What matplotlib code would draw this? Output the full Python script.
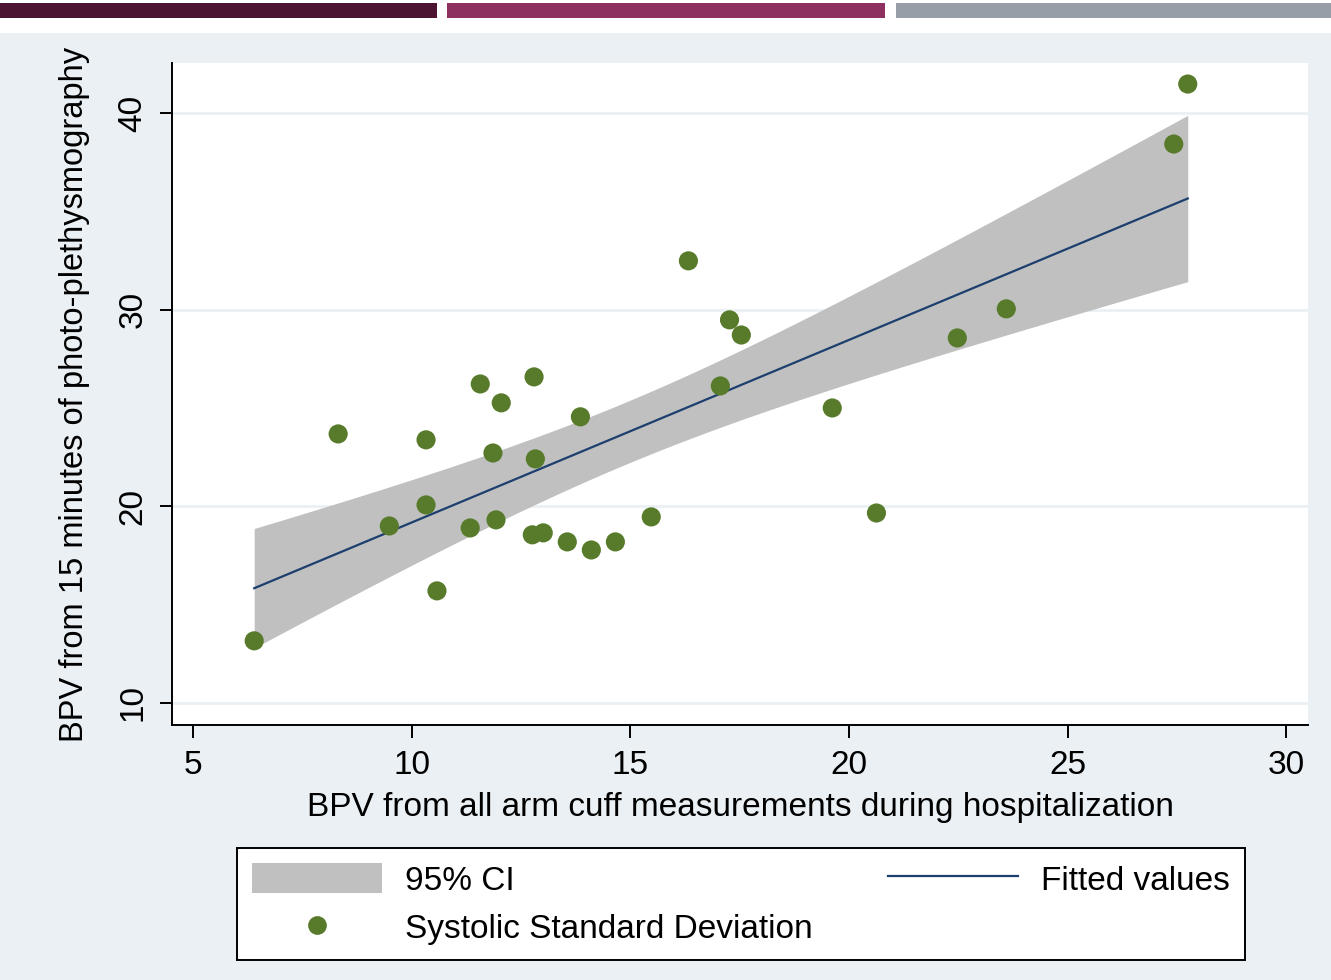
import numpy as np
import matplotlib
matplotlib.use('Agg')
import matplotlib.pyplot as plt
from matplotlib.patches import Rectangle, Patch
from matplotlib.lines import Line2D

plt.rcParams['font.family'] = ['Liberation Sans', 'DejaVu Sans']

# arm cuff BPV (x) vs PPG BPV (y)
cuff_sd = [6.40, 8.32, 9.49, 10.33, 10.33, 10.58, 11.34, 11.57, 11.86, 11.93,
           12.05, 12.80, 12.83, 12.76, 13.01, 13.56, 13.86, 14.11, 14.66, 15.48,
           16.33, 17.06, 17.27, 17.54, 19.62, 20.63, 22.48, 23.60, 27.43, 27.75]
ppg_sd = [13.16, 23.68, 19.00, 23.38, 20.07, 15.70, 18.90, 26.22, 22.71, 19.31,
          25.26, 26.58, 22.41, 18.55, 18.65, 18.19, 24.55, 17.78, 18.19, 19.46,
          32.48, 26.12, 29.48, 28.71, 25.00, 19.66, 28.56, 30.04, 38.42, 41.47]
xticks = [5, 10, 15, 20, 25, 30]
yticks = [10, 20, 30, 40]

x = np.array(cuff_sd)
y = np.array(ppg_sd)
n = len(x)

# linear fit + 95% CI of the mean (t for 28 df)
b1, b0 = np.polyfit(x, y, 1)
resid = y - (b0 + b1 * x)
s = np.sqrt(np.sum(resid ** 2) / (n - 2))
xs = np.linspace(x.min(), x.max(), 200)
fit = b0 + b1 * xs
se = s * np.sqrt(1.0 / n + (xs - x.mean()) ** 2 / np.sum((x - x.mean()) ** 2))
t = 2.048
lo, hi = fit - t * se, fit + t * se

fig = plt.figure(figsize=(13.31, 9.80), dpi=100)

# slide decorations
fig.patches.append(Rectangle((0.0, 0.0), 1.0, 1 - 33 / 980, transform=fig.transFigure,
                             facecolor='#eaf0f3', edgecolor='none', zorder=-10))
bar_y = 1 - 18 / 980
bar_h = 15 / 980
for x0, x1, c in [(0, 437, '#4c1431'), (447, 885, '#8e3060'), (896, 1331, '#979ea8')]:
    fig.patches.append(Rectangle((x0 / 1331, bar_y), (x1 - x0) / 1331, bar_h,
                                 transform=fig.transFigure, facecolor=c,
                                 edgecolor='none', zorder=-5))

ax = fig.add_axes([172 / 1331, 1 - 725 / 980, 1136 / 1331, 662 / 980])
ax.set_facecolor('white')

ax.fill_between(xs, lo, hi, color='#c0c0c0', linewidth=0, zorder=2)
ax.plot(xs, fit, color='#1d3f6e', linewidth=1.6, zorder=3)
ax.scatter(x, y, s=190, color='#587b2b', edgecolors='none', zorder=4)

ax.set_xlim(4.52, 30.5)
ax.set_ylim(8.88, 42.54)
ax.set_xticks(xticks)
ax.set_yticks(yticks)
ax.grid(axis='y', color='#eaf0f3', linewidth=2, zorder=0)
ax.set_axisbelow(True)

for side in ['top', 'right']:
    ax.spines[side].set_visible(False)
for side in ['left', 'bottom']:
    ax.spines[side].set_linewidth(1.4)
ax.tick_params(axis='both', direction='out', length=9, width=1.4, labelsize=24)
ax.tick_params(axis='x', pad=9)
ax.tick_params(axis='y', pad=8)
for lab in ax.get_yticklabels():
    lab.set_rotation(90)
    lab.set_va('center')

ax.set_xlabel('BPV from all arm cuff measurements during hospitalization', fontsize=24, labelpad=8)
ax.set_ylabel('BPV from 15 minutes of photo-plethysmography', fontsize=23.5, labelpad=20)

handles = [Patch(facecolor='#c0c0c0', edgecolor='none'),
           Line2D([], [], linestyle='none', marker='o', markersize=13.5,
                  markerfacecolor='#587b2b', markeredgecolor='none'),
           Line2D([], [], color='#1d3f6e', linewidth=1.6)]
labels = ['95% CI', 'Systolic Standard Deviation', 'Fitted values']
leg = fig.legend(handles, labels, ncol=2, loc='center',
                 bbox_to_anchor=(237 / 1331, 23 / 980, 1008 / 1331, 106 / 980),
                 bbox_transform=fig.transFigure, mode='expand', borderaxespad=0,
                 fontsize=24, frameon=True, fancybox=False, framealpha=1,
                 edgecolor='black', handlelength=3.9, handleheight=1.0,
                 handletextpad=0.7, labelspacing=0.45, borderpad=0.45)
leg.get_frame().set_linewidth(1.4)

fig.savefig('out.png', dpi=100)
